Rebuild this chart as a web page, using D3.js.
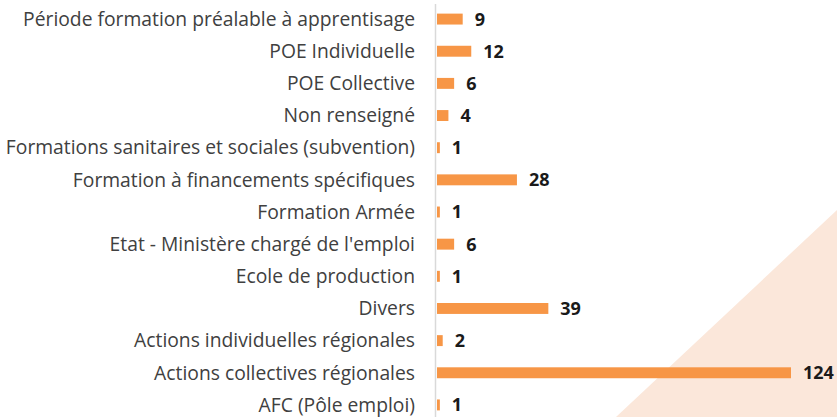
<!DOCTYPE html>
<html>
<head>
<meta charset="utf-8">
<script src="https://cdn.jsdelivr.net/npm/d3@7"></script>
<style>
  body { margin: 0; background: #fff; }
  svg { display: block; }
</style>
</head>
<body>
<div id="chart"></div>
<script>
const categories = [
  'Période formation préalable à apprentisage',
  'POE Individuelle',
  'POE Collective',
  'Non renseigné',
  'Formations sanitaires et sociales (subvention)',
  'Formation à financements spécifiques',
  'Formation Armée',
  "Etat - Ministère chargé de l'emploi",
  'Ecole de production',
  'Divers',
  'Actions individuelles régionales',
  'Actions collectives régionales',
  'AFC (Pôle emploi)',
];
const values = [9, 12, 6, 4, 1, 28, 1, 6, 1, 39, 2, 124, 1];

const width = 837;
const height = 417;
const x0 = 437;

const svg = d3.select('#chart').append('svg')
  .attr('width', width)
  .attr('height', height);

// decorative corner triangle
svg.append('path')
  .attr('d', `M616,${height} L${width},210 L${width},${height} Z`)
  .attr('fill', '#fbe7da');

const x = d3.scaleLinear()
  .domain([0, 124])
  .range([x0, 791]);

const y = d3.scaleBand()
  .domain(categories)
  .range([3, 421])
  .paddingInner(0.66)
  .paddingOuter(0.33);

// axis line
svg.append('line')
  .attr('x1', 435.5).attr('x2', 435.5)
  .attr('y1', 4).attr('y2', height)
  .attr('stroke', '#d9d9d9')
  .attr('stroke-width', 1.5);

svg.append('g')
  .selectAll('rect')
  .data(values)
  .enter()
  .append('rect')
  .attr('x', x(0))
  .attr('y', (d, i) => y(categories[i]))
  .attr('width', d => x(d) - x(0))
  .attr('height', y.bandwidth())
  .attr('fill', '#f79646');

const yAxis = svg.append('g')
  .attr('transform', 'translate(415,0)')
  .call(d3.axisLeft(y).tickSize(0).tickPadding(0));
yAxis.select('.domain').remove();
yAxis.selectAll('text')
  .attr('font-family', '"Open Sans", sans-serif')
  .attr('font-size', 19.3)
  .attr('fill', '#404040')
  .attr('dy', '0.35em');

svg.append('g')
  .selectAll('text')
  .data(values)
  .enter()
  .append('text')
  .attr('x', d => x(d) + 12)
  .attr('y', (d, i) => y(categories[i]) + y.bandwidth() / 2)
  .attr('dy', '0.36em')
  .attr('font-family', '"Open Sans", sans-serif')
  .attr('font-weight', 'bold')
  .attr('font-size', 18)
  .attr('fill', '#1a1a1a')
  .text(d => d);
</script>
</body>
</html>
